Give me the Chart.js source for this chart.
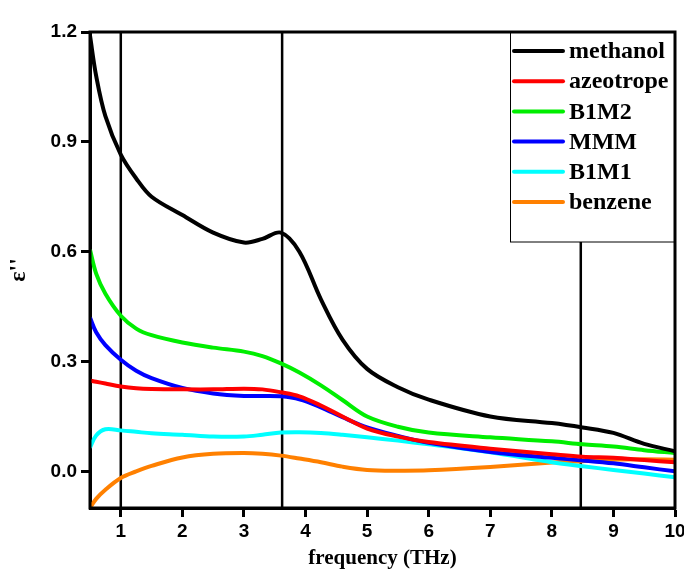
<!DOCTYPE html>
<html>
<head>
<meta charset="utf-8">
<script src="https://cdn.jsdelivr.net/npm/chart.js@4.4.1/dist/chart.umd.min.js"></script>
<style>
  html, body { margin: 0; padding: 0; background: #fff; }
  canvas { display: block; }
</style>
</head>
<body>
<canvas id="myChart" width="684" height="573"></canvas>
<script>
  // frequency points (THz) shared by all series
  const freq = [0.5, 0.6, 0.75, 1, 1.25, 1.5, 2, 2.5, 3, 3.3, 3.6, 3.9, 4.25, 4.6, 5, 5.5, 6, 7, 8, 8.5, 9, 9.5, 10];

  const methanol  = [1.19, 1.08, 0.97, 0.865, 0.80, 0.75, 0.70, 0.652, 0.625, 0.635, 0.652, 0.60, 0.47, 0.36, 0.28, 0.23, 0.196, 0.15, 0.132, 0.12, 0.105, 0.075, 0.055];
  const azeotrope = [0.248, 0.245, 0.24, 0.232, 0.227, 0.225, 0.224, 0.224, 0.226, 0.224, 0.216, 0.205, 0.18, 0.15, 0.117, 0.095, 0.08, 0.062, 0.047, 0.04, 0.037, 0.031, 0.025];
  const b1m2      = [0.605, 0.54, 0.485, 0.425, 0.39, 0.372, 0.352, 0.338, 0.327, 0.315, 0.295, 0.27, 0.235, 0.195, 0.15, 0.122, 0.106, 0.093, 0.082, 0.074, 0.068, 0.058, 0.05];
  const mmm       = [0.42, 0.38, 0.345, 0.305, 0.275, 0.255, 0.228, 0.213, 0.206, 0.206, 0.205, 0.197, 0.175, 0.148, 0.12, 0.097, 0.078, 0.053, 0.037, 0.03, 0.022, 0.011, 0.0];
  const b1m1      = [0.065, 0.098, 0.115, 0.112, 0.108, 0.104, 0.1, 0.095, 0.095, 0.1, 0.106, 0.107, 0.105, 0.1, 0.093, 0.084, 0.074, 0.052, 0.025, 0.014, 0.004, -0.006, -0.016];
  const benzene   = [-0.1, -0.075, -0.05, -0.018, 0.0, 0.015, 0.038, 0.048, 0.05, 0.048, 0.043, 0.035, 0.025, 0.013, 0.004, 0.002, 0.003, 0.012, 0.024, 0.028, 0.032, 0.033, 0.032];

  const seriesNames  = ['methanol', 'azeotrope', 'B1M2', 'MMM', 'B1M1', 'benzene'];
  const seriesColors = ['#000000', '#ff0000', '#00ee00', '#0000ff', '#00ffff', '#ff8000'];
  const seriesValues = [methanol, azeotrope, b1m2, mmm, b1m1, benzene];

  // marker lines (THz)
  const markerFreqs = [1, 3.62, 8.47];

  const xTicks = [1, 2, 3, 4, 5, 6, 7, 8, 9, 10];
  const yTicks = [0, 0.3, 0.6, 0.9, 1.2];
  const xMin = 0.5, xMax = 10, yMin = -0.1, yMax = 1.2;

  const datasets = seriesValues.map((vals, i) => ({
    label: seriesNames[i],
    data: vals.map((v, k) => ({ x: freq[k], y: v })),
    borderColor: seriesColors[i],
    backgroundColor: seriesColors[i],
    borderWidth: 4,
    pointRadius: 0,
    tension: 0.35,
    order: 1
  }));

  markerFreqs.forEach(f => {
    datasets.push({
      label: 'marker',
      data: [{ x: f, y: yMin }, { x: f, y: yMax }],
      borderColor: '#000',
      borderWidth: 2.5,
      pointRadius: 0,
      order: 10
    });
  });

  // legend box drawn inside the plot, top right
  const boxLegend = {
    id: 'boxLegend',
    afterDatasetsDraw(chart) {
      const ctx = chart.ctx;
      const area = chart.chartArea;
      const left = 510, top = area.top, right = area.right, bottom = 242;
      ctx.save();
      ctx.fillStyle = '#fff';
      ctx.fillRect(left, top, right - left, bottom - top);
      ctx.strokeStyle = '#000';
      ctx.lineWidth = 1;
      ctx.strokeRect(left + 0.5, top, right - left, bottom - top);
      ctx.font = 'bold 24px "Liberation Serif", "Times New Roman", serif';
      ctx.textBaseline = 'middle';
      ctx.textAlign = 'left';
      seriesNames.forEach((name, i) => {
        const y = 51 + i * 30.2;
        ctx.strokeStyle = seriesColors[i];
        ctx.lineWidth = 4;
        ctx.lineCap = 'round';
        ctx.beginPath();
        ctx.moveTo(514, y);
        ctx.lineTo(563, y);
        ctx.stroke();
        ctx.fillStyle = '#000';
        ctx.fillText(name, 569, y + 1);
      });
      ctx.restore();
    },
    afterDraw(chart) {
      const ctx = chart.ctx;
      const a = chart.chartArea;
      ctx.save();
      ctx.strokeStyle = '#000';
      ctx.lineWidth = 3;
      ctx.strokeRect(a.left, a.top, a.right - a.left, a.bottom - a.top);
      ctx.restore();
    }
  };

  const tickFont = { family: '"Liberation Sans", Arial, sans-serif', size: 19, weight: 'bold' };
  const titleFont = { family: '"Liberation Serif", "Times New Roman", serif', size: 21, weight: 'bold' };

  const ctx = document.getElementById('myChart').getContext('2d');
  new Chart(ctx, {
    type: 'line',
    data: { datasets },
    plugins: [boxLegend],
    options: {
      responsive: false,
      animation: false,
      devicePixelRatio: 1,
      layout: { padding: { top: 32, right: 9, left: 0, bottom: 0 } },
      plugins: { legend: { display: false }, tooltip: { enabled: false } },
      scales: {
        x: {
          type: 'linear',
          min: xMin,
          max: xMax,
          afterBuildTicks: s => { s.ticks = xTicks.map(v => ({ value: v })); },
          afterFit: s => { s.height = 65; s.paddingRight = 0; s.paddingLeft = 0; },
          ticks: { color: '#000', font: tickFont, padding: 3, maxRotation: 0 },
          grid: { drawOnChartArea: false, drawTicks: true, tickLength: 9, tickWidth: 3, tickColor: '#000' },
          border: { display: true, color: '#000', width: 3 },
          title: { display: true, text: 'frequency (THz)', color: '#000', font: titleFont, padding: { top: 2, bottom: 2 } }
        },
        y: {
          min: yMin,
          max: yMax,
          afterBuildTicks: s => { s.ticks = yTicks.map(v => ({ value: v })); },
          afterFit: s => { s.width = 90; s.paddingTop = 0; s.paddingBottom = 0; },
          ticks: { color: '#000', font: tickFont, padding: 4, callback: v => v.toFixed(1) },
          grid: { drawOnChartArea: false, drawTicks: true, tickLength: 9, tickWidth: 3, tickColor: '#000' },
          border: { display: true, color: '#000', width: 3 },
          title: { display: true, text: "ε''", color: '#000', font: { family: '"Liberation Serif", serif', size: 24, weight: 'bold' }, padding: { top: 4, bottom: 4 } }
        }
      }
    }
  });
</script>
</body>
</html>
